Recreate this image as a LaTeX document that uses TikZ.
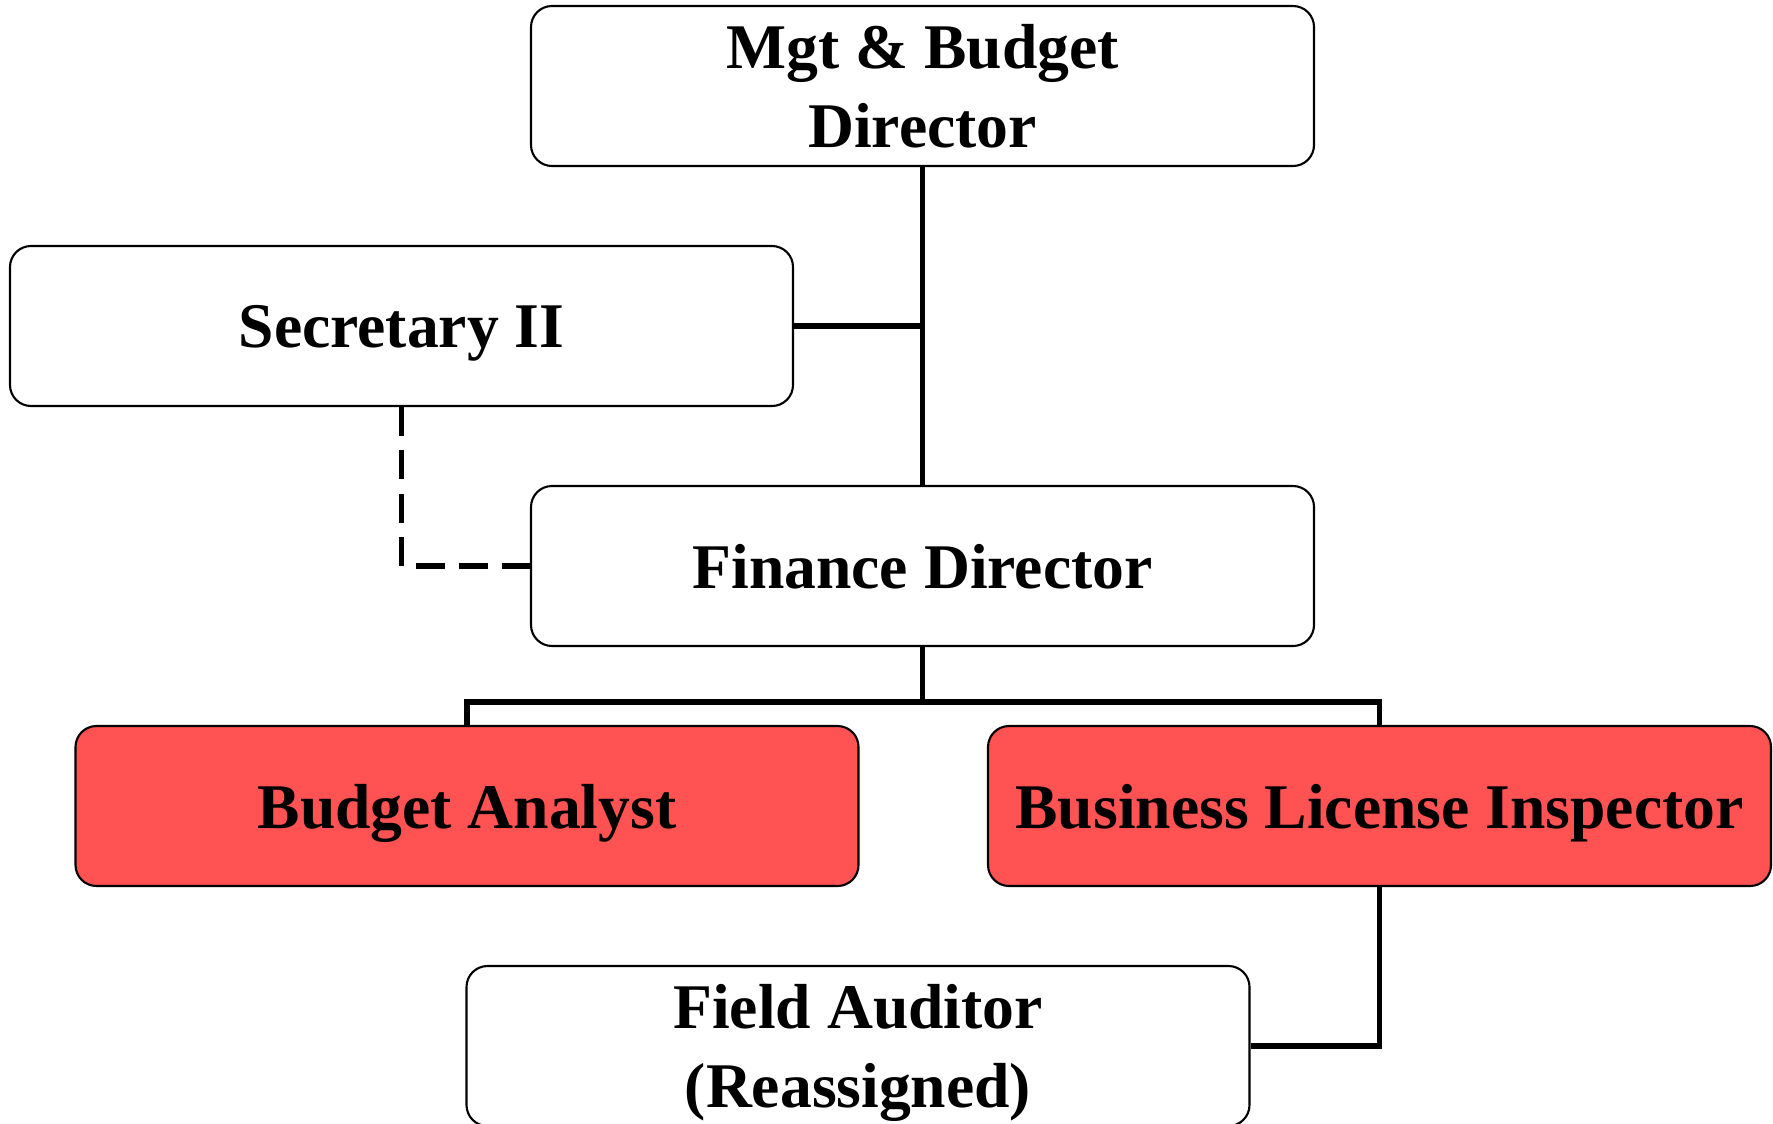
\documentclass[tikz,border=0pt]{standalone}
\usepackage{fontspec}
\setmainfont{Liberation Serif}
\usepackage{tikz}
\usetikzlibrary{positioning}
\definecolor{posred}{RGB}{255,82,82}

\tikzset{
  post/.style={draw, rounded corners=0.21cm, line width=0.6pt,
    minimum width=7.83cm, minimum height=1.6cm, align=center,
    text depth=0pt,
    font=\fontsize{18.1}{22.6}\selectfont\bfseries},
  cut/.style={post, fill=posred},
  link/.style={line width=1.45pt},
  dotlink/.style={link, dash pattern=on 0.29cm off 0.143cm}
}

\begin{document}
\begin{tikzpicture}[node distance=2.4cm]
        \useasboundingbox (0,0) rectangle (17.73,-11.23);

        \node (mgt) [post] at (9.225,-0.86) {Mgt \& Budget\\Director};
        \node (sec) [post, below of=mgt, xshift=-5.21cm]  {Secretary II};
        \node (fin) [post, below of=sec, xshift=5.21cm]   {Finance Director};
        \node (ana) [cut, below of=fin, xshift=-4.555cm]  {Budget Analyst};
        \node (bli) [cut, below of=fin, xshift=4.57cm]    {Business License Inspector};
        \node (fld) [post, below of=bli, xshift=-5.215cm] {Field Auditor\\(Reassigned)};

        \coordinate (bar) at (9.225,-7.02);

        \draw[link] (mgt) -- (fin);
        \draw[link] (sec.east) -- (sec.east -| mgt.south);
        \draw[dotlink] (sec.south) |- (fin.west);
        \draw[link] (fin.south) -- (bar)
                    (ana.north) |- (bar) -| (bli.north);
        \draw[link] (bli.south) |- (fld.east);
    \end{tikzpicture}
\end{document}
